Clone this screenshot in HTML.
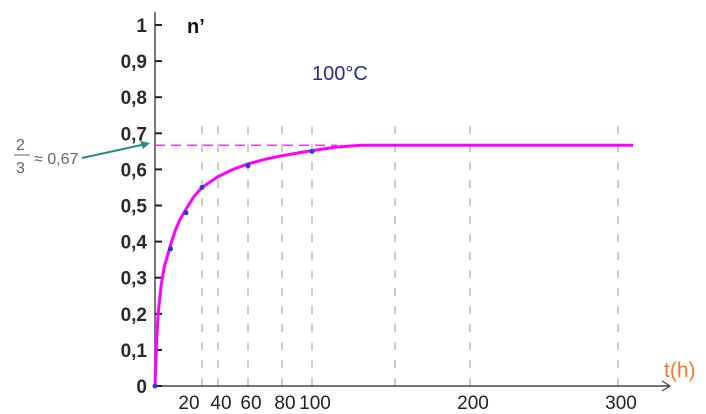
<!DOCTYPE html>
<html><head><meta charset="utf-8"><style>
body{margin:0;background:#fff;}
svg{display:block;font-family:"Liberation Sans",sans-serif;}
</style></head><body>
<svg width="706" height="414" viewBox="0 0 706 414">
<g id="grid"></g>
<g id="axes"></g>
<g id="marks"></g>
<text x="187" y="33" font-size="20" font-weight="bold" fill="#111">n’</text>
<text x="312" y="80" font-size="20" fill="#2b2b8f">100°C</text>
<text x="664" y="377" font-size="21" fill="#f07a2a">t(h)</text>
<g fill="#666">
<text x="16" y="150" font-size="16">2</text>
<line x1="14" y1="155" x2="30" y2="155" stroke="#666" stroke-width="1"/>
<text x="16" y="173" font-size="16">3</text>
<text x="34" y="164" font-size="16">≈ 0,67</text>
<line x1="82" y1="158" x2="146" y2="144" stroke="#2a8a8a" stroke-width="2"/>
<polygon points="150,143 140,141 143,149" fill="#2a8a8a"/>
</g>
</svg>
<script>
const yTicks=[0,0.1,0.2,0.3,0.4,0.5,0.6,0.7,0.8,0.9,1];
const yTickLabels=["0","0,1","0,2","0,3","0,4","0,5","0,6","0,7","0,8","0,9","1"];
const xTicks=[20,40,60,80,100,200,300];
const xTickLabels=["20","40","60","80","100","200","300"];
const gridT=[30,40,60,80,100,150,200,300];
const curveT=[0,1,2,4,6,8,10,13,16,20,25,30,40,50,60,70,80,90,100,115,130,200,310];
const curveN=[0,0.12,0.2,0.28,0.33,0.36,0.39,0.43,0.46,0.49,0.525,0.55,0.58,0.6,0.615,0.628,0.638,0.645,0.652,0.662,0.667,0.667,0.667];
const pointT=[0,10,20,30,60,100];
const pointN=[0,0.38,0.48,0.55,0.61,0.65];
const limitN=0.667;
const tAnch=[0,20,40,60,80,100,150,200,300,320];
const pxAnch=[155,186,218,248,282,312,395,470,618,648];
function X(t){for(let i=0;i<tAnch.length-1;i++){if(t<=tAnch[i+1]){return pxAnch[i]+(t-tAnch[i])/(tAnch[i+1]-tAnch[i])*(pxAnch[i+1]-pxAnch[i]);}}return pxAnch[pxAnch.length-1];}
function Y(v){return 386-v*361;}
const NS="http://www.w3.org/2000/svg";
function mk(p,tag,a){const e=document.createElementNS(NS,tag);for(const k in a)e.setAttribute(k,a[k]);p.appendChild(e);return e;}
const grid=document.getElementById('grid'),axes=document.getElementById('axes'),marks=document.getElementById('marks');
gridT.forEach(t=>{const l=mk(grid,'line',{x1:X(t),x2:X(t),y1:Y(0.72),y2:386,stroke:'#bbb','stroke-width':1.5,'stroke-dasharray':'8 10'});

});
let ax=mk(axes,'line',{x1:155,x2:155,y1:386,y2:12,stroke:'#777','stroke-width':2});


let bx=mk(axes,'line',{x1:155,x2:670,y1:386,y2:386,stroke:'#444','stroke-width':1.5});


mk(axes,'polyline',{points:'662,381 670,386 662,391',fill:'none',stroke:'#444','stroke-width':1.2});
yTicks.forEach((v,i)=>{mk(axes,'line',{x1:155,x2:162,y1:Y(v),y2:Y(v),stroke:'#222','stroke-width':2});
const t=mk(axes,'text',{x:147,y:Y(v)+7,'text-anchor':'end','font-size':19,'font-weight':'bold',fill:'#2a2a2a'});t.textContent=yTickLabels[i];

});
xTicks.forEach((v,i)=>{const t=mk(axes,'text',{x:X(v)+3,y:409,'text-anchor':'middle','font-size':19,fill:'#222'});t.textContent=xTickLabels[i];

});
let lim=mk(marks,'line',{x1:155,x2:X(115),y1:Y(limitN),y2:Y(limitN),stroke:'#ff33ff','stroke-width':1.5,'stroke-dasharray':'10 6'});


let c=mk(marks,'polyline',{points:curveT.map((t,i)=>X(t)+','+Y(curveN[i])).join(' '),fill:'none',stroke:'#ff00ff','stroke-width':3});


pointT.forEach((t,i)=>{const p=mk(marks,'circle',{cx:X(t),cy:Y(pointN[i]),r:2.5,fill:'#2040d0'});

});
</script>
</body></html>
